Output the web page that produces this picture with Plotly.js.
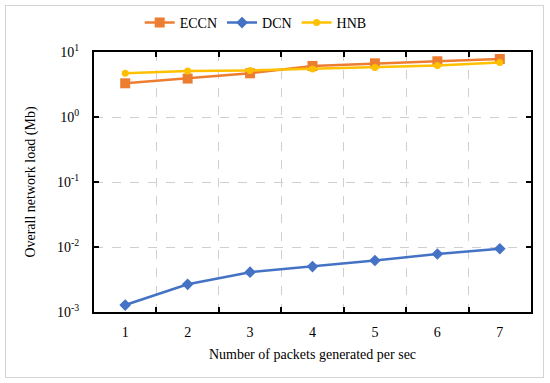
<!DOCTYPE html>
<html><head><meta charset="utf-8">
<script src="https://cdn.plot.ly/plotly-3.0.1.min.js"></script>
<style>body{margin:0;background:#fff}#frame{position:absolute;left:5px;top:5px;width:537px;height:371px;border:1px solid #d4d4d4;pointer-events:none}</style>
</head><body>
<div id="chart" style="width:550px;height:383px"></div>
<div id="frame"></div>
<script>
const categories = ["1","2","3","4","5","6","7"];
const eccn = [3.3, 3.9, 4.7, 6.1, 6.7, 7.2, 7.8];
const dcn = [0.00128, 0.00267, 0.0041, 0.005, 0.0062, 0.0078, 0.0094];
const hnb = [4.7, 5.1, 5.2, 5.5, 5.8, 6.2, 6.9];
const yTickVals = [0.001, 0.01, 0.1, 1, 10];
const yTickText = ["10<sup>-3</sup>","10<sup>-2</sup>","10<sup>-1</sup>","10<sup>0</sup>","10<sup>1</sup>"];

const font = {family: "Liberation Serif, Times New Roman, serif", color: "#000"};
const f = s => Object.assign({size: s}, font);
const traces = [
  {x: categories, y: eccn, name: "ECCN", mode: "lines+markers",
   line: {color: "#ED7D31", width: 2.5}, marker: {symbol: "square", size: 10, color: "#ED7D31"}},
  {x: categories, y: dcn, name: "DCN", mode: "lines+markers",
   line: {color: "#4472C4", width: 2.5}, marker: {symbol: "diamond", size: 9, color: "#4472C4"}},
  {x: categories, y: hnb, name: "HNB", mode: "lines+markers",
   line: {color: "#FFC000", width: 2.5}, marker: {symbol: "circle", size: 7, color: "#FFC000"}}
];
const layout = {
  width: 550, height: 383,
  margin: {l: 94, r: 19, t: 52, b: 71, autoexpand: false},
  paper_bgcolor: "#fff", plot_bgcolor: "#fff",
  font: f(14),
  showlegend: true,
  legend: {orientation: "h", x: 0.37, xanchor: "center", y: 1.05, yanchor: "bottom",
           font: f(14), itemwidth: 30, tracegroupgap: 0},
  xaxis: {type: "category", tickson: "boundaries", range: [-0.5, 6.5],
          showgrid: true, gridcolor: "#cfcfcf", griddash: "dash", gridwidth: 1,
          ticks: "inside", ticklen: 5, tickwidth: 2, tickcolor: "#000",
          showline: true, linecolor: "#000", linewidth: 2, mirror: "ticks",
          zeroline: false, tickfont: f(14), ticklabelstandoff: 6,
          title: {text: "Number of packets generated per sec", font: f(14), standoff: 10}},
  yaxis: {type: "log", range: [-3, 1], tickvals: yTickVals, ticktext: yTickText,
          showgrid: true, gridcolor: "#cfcfcf", griddash: "dash", gridwidth: 1,
          ticks: "inside", ticklen: 5, tickwidth: 2, tickcolor: "#000",
          showline: true, linecolor: "#000", linewidth: 2, mirror: "ticks",
          zeroline: false, tickfont: f(14), ticklabelstandoff: 10,
          title: {text: "Overall network load (Mb)", font: f(14), standoff: 18}}
};
Plotly.newPlot("chart", traces, layout, {displayModeBar: false, staticPlot: true});
</script>
</body></html>
